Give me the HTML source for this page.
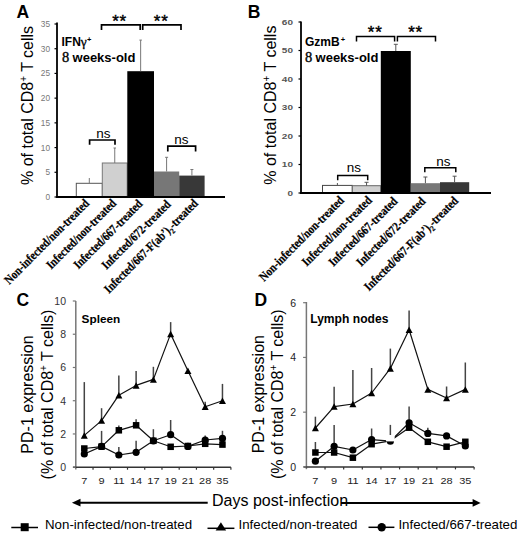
<!DOCTYPE html>
<html><head><meta charset="utf-8"><style>
html,body{margin:0;padding:0;background:#fff;}
svg{display:block;}
</style></head><body>
<svg width="520" height="535" viewBox="0 0 520 535">
<rect width="520" height="535" fill="#fff"/>
<rect x="76.3" y="183.3" width="26.0" height="13.699999999999989" fill="#fff" stroke="#555" stroke-width="1"/>
<line x1="89.3" y1="183.3" x2="89.3" y2="178" stroke="#777" stroke-width="1" />
<rect x="102.3" y="163" width="24.900000000000006" height="34" fill="#d0d0d0" stroke="#777" stroke-width="1"/>
<line x1="114.75" y1="163" x2="114.75" y2="148" stroke="#777" stroke-width="1" />
<line x1="113.5" y1="148" x2="116.0" y2="148" stroke="#777" stroke-width="1" />
<rect x="127.3" y="71.2" width="26.700000000000003" height="125.8" fill="#000" stroke="none" stroke-width="0"/>
<line x1="140.65" y1="71.2" x2="140.65" y2="40.1" stroke="#777" stroke-width="1" />
<line x1="139.4" y1="40.1" x2="141.9" y2="40.1" stroke="#777" stroke-width="1" />
<rect x="154" y="171.5" width="25.19999999999999" height="25.5" fill="#777" stroke="none" stroke-width="0"/>
<line x1="166.6" y1="171.5" x2="166.6" y2="157.3" stroke="#777" stroke-width="1" />
<line x1="165.1" y1="157.3" x2="168.1" y2="157.3" stroke="#777" stroke-width="1" />
<rect x="179.2" y="175.6" width="25.400000000000006" height="21.400000000000006" fill="#383838" stroke="none" stroke-width="0"/>
<line x1="191.89999999999998" y1="175.6" x2="191.89999999999998" y2="169.5" stroke="#777" stroke-width="1" />
<line x1="190.39999999999998" y1="169.5" x2="193.39999999999998" y2="169.5" stroke="#777" stroke-width="1" />
<line x1="57" y1="22.5" x2="57" y2="198" stroke="#000" stroke-width="1.8" />
<line x1="56" y1="197" x2="225" y2="197" stroke="#000" stroke-width="1.8" />
<line x1="54.5" y1="197.0" x2="57" y2="197.0" stroke="#000" stroke-width="1.2" />
<text transform="translate(50,200.00) scale(1.0,1)" font-family="Liberation Sans" font-size="8.3" font-weight="normal" fill="#777" text-anchor="end">0</text>
<line x1="54.5" y1="172.28571428571428" x2="57" y2="172.28571428571428" stroke="#000" stroke-width="1.2" />
<text transform="translate(50,175.29) scale(1.0,1)" font-family="Liberation Sans" font-size="8.3" font-weight="normal" fill="#777" text-anchor="end">5</text>
<line x1="54.5" y1="147.57142857142856" x2="57" y2="147.57142857142856" stroke="#000" stroke-width="1.2" />
<text transform="translate(50,150.57) scale(1.0,1)" font-family="Liberation Sans" font-size="8.3" font-weight="normal" fill="#777" text-anchor="end">10</text>
<line x1="54.5" y1="122.85714285714286" x2="57" y2="122.85714285714286" stroke="#000" stroke-width="1.2" />
<text transform="translate(50,125.86) scale(1.0,1)" font-family="Liberation Sans" font-size="8.3" font-weight="normal" fill="#777" text-anchor="end">15</text>
<line x1="54.5" y1="98.14285714285714" x2="57" y2="98.14285714285714" stroke="#000" stroke-width="1.2" />
<text transform="translate(50,101.14) scale(1.0,1)" font-family="Liberation Sans" font-size="8.3" font-weight="normal" fill="#777" text-anchor="end">20</text>
<line x1="54.5" y1="73.42857142857142" x2="57" y2="73.42857142857142" stroke="#000" stroke-width="1.2" />
<text transform="translate(50,76.43) scale(1.0,1)" font-family="Liberation Sans" font-size="8.3" font-weight="normal" fill="#777" text-anchor="end">25</text>
<line x1="54.5" y1="48.71428571428572" x2="57" y2="48.71428571428572" stroke="#000" stroke-width="1.2" />
<text transform="translate(50,51.71) scale(1.0,1)" font-family="Liberation Sans" font-size="8.3" font-weight="normal" fill="#777" text-anchor="end">30</text>
<line x1="54.5" y1="24.0" x2="57" y2="24.0" stroke="#000" stroke-width="1.2" />
<text transform="translate(50,27.00) scale(1.0,1)" font-family="Liberation Sans" font-size="8.3" font-weight="normal" fill="#777" text-anchor="end">35</text>
<path d="M101.5 30 V24.9 H140.2 V30" fill="none" stroke="#000" stroke-width="1.7"/>
<text x="119.6" y="26.5" font-family="Liberation Sans" font-size="17" font-weight="normal" fill="#000" text-anchor="middle" letter-spacing="0.8" stroke="#000" stroke-width="0.4">**</text>
<path d="M142.7 30 V24.9 H181 V30" fill="none" stroke="#000" stroke-width="1.7"/>
<text x="161.2" y="26.5" font-family="Liberation Sans" font-size="17" font-weight="normal" fill="#000" text-anchor="middle" letter-spacing="0.8" stroke="#000" stroke-width="0.4">**</text>
<path d="M89.6 144.8 V140 H115 V144.8" fill="none" stroke="#000" stroke-width="1.7"/>
<text x="103.3" y="138" font-family="Liberation Sans" font-size="13.5" font-weight="normal" fill="#000" text-anchor="middle" >ns</text>
<path d="M167.8 151.5 V146.2 H195.6 V151.5" fill="none" stroke="#000" stroke-width="1.7"/>
<text x="181.4" y="143.5" font-family="Liberation Sans" font-size="13.5" font-weight="normal" fill="#000" text-anchor="middle" >ns</text>
<rect x="322.5" y="185.4" width="29.80000000000001" height="7.599999999999994" fill="#fff" stroke="#444" stroke-width="1"/>
<line x1="337.4" y1="185.4" x2="337.4" y2="183" stroke="#555" stroke-width="1" />
<rect x="352.3" y="185.7" width="28.5" height="7.300000000000011" fill="#d0d0d0" stroke="#666" stroke-width="1"/>
<line x1="366.55" y1="185.7" x2="366.55" y2="182.3" stroke="#555" stroke-width="1" />
<line x1="364.55" y1="182.3" x2="368.55" y2="182.3" stroke="#555" stroke-width="1" />
<rect x="380.8" y="51" width="30.0" height="142" fill="#000" stroke="none" stroke-width="0"/>
<line x1="395.8" y1="51" x2="395.8" y2="44.3" stroke="#555" stroke-width="1" />
<line x1="393.8" y1="44.3" x2="397.8" y2="44.3" stroke="#555" stroke-width="1" />
<rect x="410.8" y="183.2" width="29.19999999999999" height="9.800000000000011" fill="#777" stroke="none" stroke-width="0"/>
<line x1="425.4" y1="183.2" x2="425.4" y2="177" stroke="#555" stroke-width="1" />
<line x1="423.4" y1="177" x2="427.4" y2="177" stroke="#555" stroke-width="1" />
<rect x="440" y="182.2" width="29.19999999999999" height="10.800000000000011" fill="#383838" stroke="none" stroke-width="0"/>
<line x1="454.6" y1="182.2" x2="454.6" y2="176.2" stroke="#555" stroke-width="1" />
<line x1="452.6" y1="176.2" x2="456.6" y2="176.2" stroke="#555" stroke-width="1" />
<line x1="301" y1="21.5" x2="301" y2="194" stroke="#000" stroke-width="1.8" />
<line x1="300" y1="193" x2="491" y2="193" stroke="#000" stroke-width="1.8" />
<line x1="298.5" y1="193.0" x2="301" y2="193.0" stroke="#000" stroke-width="1.2" />
<text transform="translate(293,195.90) scale(1.25,1)" font-family="Liberation Sans" font-size="8" font-weight="bold" fill="#555" text-anchor="end">0</text>
<line x1="298.5" y1="164.5" x2="301" y2="164.5" stroke="#000" stroke-width="1.2" />
<text transform="translate(293,167.40) scale(1.25,1)" font-family="Liberation Sans" font-size="8" font-weight="bold" fill="#555" text-anchor="end">10</text>
<line x1="298.5" y1="136.0" x2="301" y2="136.0" stroke="#000" stroke-width="1.2" />
<text transform="translate(293,138.90) scale(1.25,1)" font-family="Liberation Sans" font-size="8" font-weight="bold" fill="#555" text-anchor="end">20</text>
<line x1="298.5" y1="107.5" x2="301" y2="107.5" stroke="#000" stroke-width="1.2" />
<text transform="translate(293,110.40) scale(1.25,1)" font-family="Liberation Sans" font-size="8" font-weight="bold" fill="#555" text-anchor="end">30</text>
<line x1="298.5" y1="79.0" x2="301" y2="79.0" stroke="#000" stroke-width="1.2" />
<text transform="translate(293,81.90) scale(1.25,1)" font-family="Liberation Sans" font-size="8" font-weight="bold" fill="#555" text-anchor="end">40</text>
<line x1="298.5" y1="50.5" x2="301" y2="50.5" stroke="#000" stroke-width="1.2" />
<text transform="translate(293,53.40) scale(1.25,1)" font-family="Liberation Sans" font-size="8" font-weight="bold" fill="#555" text-anchor="end">50</text>
<line x1="298.5" y1="22.0" x2="301" y2="22.0" stroke="#000" stroke-width="1.2" />
<text transform="translate(293,24.90) scale(1.25,1)" font-family="Liberation Sans" font-size="8" font-weight="bold" fill="#555" text-anchor="end">60</text>
<path d="M356.5 41.6 V36.5 H394.6 V41.6" fill="none" stroke="#000" stroke-width="1.5"/>
<text x="375.2" y="38.3" font-family="Liberation Sans" font-size="17" font-weight="normal" fill="#000" text-anchor="middle" letter-spacing="0.8" stroke="#000" stroke-width="0.4">**</text>
<path d="M397.4 41.5 V36.5 H435.5 V41.5" fill="none" stroke="#000" stroke-width="1.5"/>
<text x="415.6" y="38.3" font-family="Liberation Sans" font-size="17" font-weight="normal" fill="#000" text-anchor="middle" letter-spacing="0.8" stroke="#000" stroke-width="0.4">**</text>
<path d="M337.7 180.3 V175.4 H367.7 V180.3" fill="none" stroke="#000" stroke-width="1.5"/>
<text x="353.8" y="172" font-family="Liberation Sans" font-size="13.5" font-weight="normal" fill="#000" text-anchor="middle" >ns</text>
<path d="M424.8 172.3 V167.7 H455.8 V172.3" fill="none" stroke="#000" stroke-width="1.5"/>
<text x="443.3" y="166.2" font-family="Liberation Sans" font-size="13.5" font-weight="normal" fill="#000" text-anchor="middle" >ns</text>
<text x="16.4" y="17.7" font-family="Liberation Sans" font-size="17.5" font-weight="bold" fill="#000" text-anchor="start" >A</text>
<text x="247.8" y="17.8" font-family="Liberation Sans" font-size="17.5" font-weight="bold" fill="#000" text-anchor="start" >B</text>
<text x="16.5" y="305.8" font-family="Liberation Sans" font-size="17.5" font-weight="bold" fill="#000" text-anchor="start" >C</text>
<text x="254.5" y="306.4" font-family="Liberation Sans" font-size="17.5" font-weight="bold" fill="#000" text-anchor="start" >D</text>
<text transform="translate(33.2,185) rotate(-90)" font-family="Liberation Sans" font-size="16" fill="#000">% of total CD8<tspan font-size="10" dy="-6">+</tspan><tspan dy="6"> T cells</tspan></text>
<text transform="translate(275.8,184.7) rotate(-90)" font-family="Liberation Sans" font-size="16" fill="#000">% of total CD8<tspan font-size="10" dy="-6">+</tspan><tspan dy="6"> T cells</tspan></text>
<text x="61.5" y="46" font-family="Liberation Sans" font-size="12" font-weight="bold">IFN<tspan font-family="Liberation Serif" font-weight="normal" font-size="13.5" stroke="#000" stroke-width="0.3">γ</tspan><tspan font-size="7.5" dx="0.2" dy="-3.8">+</tspan></text>
<text x="62" y="62" font-family="Liberation Sans" font-size="13" font-weight="bold"><tspan font-family="Liberation Serif" font-weight="normal" font-size="14.5" stroke="#000" stroke-width="0.35">8</tspan><tspan dx="-0.3"> weeks-old</tspan></text>
<text x="305" y="46" font-family="Liberation Sans" font-size="12" font-weight="bold">GzmB<tspan font-size="7.5" dx="1.2" dy="-3.6">+</tspan></text>
<text x="305" y="62.3" font-family="Liberation Sans" font-size="13" font-weight="bold"><tspan font-family="Liberation Serif" font-weight="normal" font-size="14.5" stroke="#000" stroke-width="0.35">8</tspan><tspan dx="-0.3"> weeks-old</tspan></text>
<text transform="translate(90,204.1) rotate(-45) scale(0.85,1)" font-family="Liberation Serif" font-size="12.5" font-weight="bold" stroke="#000" stroke-width="0.25" text-anchor="end">Non-infected/non-treated</text>
<text transform="translate(116.9,204.1) rotate(-45) scale(0.85,1)" font-family="Liberation Serif" font-size="12.5" font-weight="bold" stroke="#000" stroke-width="0.25" text-anchor="end">Infected/non-treated</text>
<text transform="translate(143.3,204.6) rotate(-45) scale(0.85,1)" font-family="Liberation Serif" font-size="12.5" font-weight="bold" stroke="#000" stroke-width="0.25" text-anchor="end">Infected/667-treated</text>
<text transform="translate(171.4,205.1) rotate(-45) scale(0.85,1)" font-family="Liberation Serif" font-size="12.5" font-weight="bold" stroke="#000" stroke-width="0.25" text-anchor="end">Infected/672-treated</text>
<text transform="translate(198.8,204.1) rotate(-45) scale(0.85,1)" font-family="Liberation Serif" font-size="12.5" font-weight="bold" stroke="#000" stroke-width="0.25" text-anchor="end">Infected/667-F(ab&#8217;)<tspan font-size="8" dy="3">2</tspan><tspan dy="-3">-treated</tspan></text>
<text transform="translate(344.75,201.1) rotate(-45) scale(0.85,1)" font-family="Liberation Serif" font-size="12.5" font-weight="bold" stroke="#000" stroke-width="0.25" text-anchor="end">Non-infected/non-treated</text>
<text transform="translate(372.6,201.1) rotate(-45) scale(0.85,1)" font-family="Liberation Serif" font-size="12.5" font-weight="bold" stroke="#000" stroke-width="0.25" text-anchor="end">Infected/non-treated</text>
<text transform="translate(398.3,202.1) rotate(-45) scale(0.85,1)" font-family="Liberation Serif" font-size="12.5" font-weight="bold" stroke="#000" stroke-width="0.25" text-anchor="end">Infected/667-treated</text>
<text transform="translate(426.2,202.1) rotate(-45) scale(0.85,1)" font-family="Liberation Serif" font-size="12.5" font-weight="bold" stroke="#000" stroke-width="0.25" text-anchor="end">Infected/672-treated</text>
<text transform="translate(458.9,201.6) rotate(-45) scale(0.85,1)" font-family="Liberation Serif" font-size="12.5" font-weight="bold" stroke="#000" stroke-width="0.25" text-anchor="end">Infected/667-F(ab&#8217;)<tspan font-size="8" dy="3">2</tspan><tspan dy="-3">-treated</tspan></text>
<line x1="84.3" y1="382.1" x2="84.3" y2="435" stroke="#444" stroke-width="1.5" />
<line x1="101.57" y1="408.2" x2="101.57" y2="420" stroke="#444" stroke-width="1.5" />
<line x1="118.84" y1="375.4" x2="118.84" y2="395" stroke="#444" stroke-width="1.5" />
<line x1="136.11" y1="370.9" x2="136.11" y2="385" stroke="#444" stroke-width="1.5" />
<line x1="153.38" y1="366.8" x2="153.38" y2="379" stroke="#444" stroke-width="1.5" />
<line x1="170.64999999999998" y1="322.1" x2="170.64999999999998" y2="334" stroke="#444" stroke-width="1.5" />
<line x1="205.19" y1="401.8" x2="205.19" y2="406" stroke="#444" stroke-width="1.5" />
<line x1="222.45999999999998" y1="383.9" x2="222.45999999999998" y2="400" stroke="#444" stroke-width="1.5" />
<line x1="101.57" y1="430.9" x2="101.57" y2="446" stroke="#444" stroke-width="1.5" />
<line x1="118.84" y1="425.5" x2="118.84" y2="430" stroke="#444" stroke-width="1.5" />
<line x1="136.11" y1="419.3" x2="136.11" y2="425" stroke="#444" stroke-width="1.5" />
<line x1="118.84" y1="447" x2="118.84" y2="455" stroke="#444" stroke-width="1.5" />
<line x1="136.11" y1="440.8" x2="136.11" y2="452" stroke="#444" stroke-width="1.5" />
<line x1="153.38" y1="429.2" x2="153.38" y2="440" stroke="#444" stroke-width="1.5" />
<line x1="170.64999999999998" y1="420" x2="170.64999999999998" y2="434" stroke="#444" stroke-width="1.5" />
<line x1="205.19" y1="435.4" x2="205.19" y2="440" stroke="#444" stroke-width="1.5" />
<line x1="222.45999999999998" y1="430.8" x2="222.45999999999998" y2="438" stroke="#444" stroke-width="1.5" />
<line x1="75.8" y1="301" x2="75.8" y2="469.5" stroke="#777" stroke-width="1.5" />
<line x1="73.0" y1="467.2" x2="230.9" y2="467.2" stroke="#333" stroke-width="1.5" />
<line x1="72.8" y1="467.2" x2="75.8" y2="467.2" stroke="#777" stroke-width="1.2" />
<text x="66" y="471.0" font-family="Liberation Sans" font-size="10.5" font-weight="normal" fill="#333" text-anchor="end" >0</text>
<line x1="72.8" y1="433.96" x2="75.8" y2="433.96" stroke="#777" stroke-width="1.2" />
<text x="66" y="437.76" font-family="Liberation Sans" font-size="10.5" font-weight="normal" fill="#333" text-anchor="end" >2</text>
<line x1="72.8" y1="400.72" x2="75.8" y2="400.72" stroke="#777" stroke-width="1.2" />
<text x="66" y="404.52000000000004" font-family="Liberation Sans" font-size="10.5" font-weight="normal" fill="#333" text-anchor="end" >4</text>
<line x1="72.8" y1="367.48" x2="75.8" y2="367.48" stroke="#777" stroke-width="1.2" />
<text x="66" y="371.28000000000003" font-family="Liberation Sans" font-size="10.5" font-weight="normal" fill="#333" text-anchor="end" >6</text>
<line x1="72.8" y1="334.24" x2="75.8" y2="334.24" stroke="#777" stroke-width="1.2" />
<text x="66" y="338.04" font-family="Liberation Sans" font-size="10.5" font-weight="normal" fill="#333" text-anchor="end" >8</text>
<line x1="72.8" y1="301.0" x2="75.8" y2="301.0" stroke="#777" stroke-width="1.2" />
<text x="66" y="304.8" font-family="Liberation Sans" font-size="10.5" font-weight="normal" fill="#333" text-anchor="end" >10</text>
<line x1="93.03333333333333" y1="467.2" x2="93.03333333333333" y2="469.7" stroke="#333" stroke-width="1.2" />
<line x1="110.26666666666667" y1="467.2" x2="110.26666666666667" y2="469.7" stroke="#333" stroke-width="1.2" />
<line x1="127.5" y1="467.2" x2="127.5" y2="469.7" stroke="#333" stroke-width="1.2" />
<line x1="144.73333333333335" y1="467.2" x2="144.73333333333335" y2="469.7" stroke="#333" stroke-width="1.2" />
<line x1="161.96666666666667" y1="467.2" x2="161.96666666666667" y2="469.7" stroke="#333" stroke-width="1.2" />
<line x1="179.2" y1="467.2" x2="179.2" y2="469.7" stroke="#333" stroke-width="1.2" />
<line x1="196.43333333333334" y1="467.2" x2="196.43333333333334" y2="469.7" stroke="#333" stroke-width="1.2" />
<line x1="213.66666666666669" y1="467.2" x2="213.66666666666669" y2="469.7" stroke="#333" stroke-width="1.2" />
<line x1="230.90000000000003" y1="467.2" x2="230.90000000000003" y2="469.7" stroke="#333" stroke-width="1.2" />
<text transform="translate(84.30,484.2) scale(1.12,1)" font-family="Liberation Sans" font-size="9.8" fill="#222" text-anchor="middle">7</text>
<text transform="translate(101.57,484.2) scale(1.12,1)" font-family="Liberation Sans" font-size="9.8" fill="#222" text-anchor="middle">9</text>
<text transform="translate(118.84,484.2) scale(1.12,1)" font-family="Liberation Sans" font-size="9.8" fill="#222" text-anchor="middle">11</text>
<text transform="translate(136.11,484.2) scale(1.12,1)" font-family="Liberation Sans" font-size="9.8" fill="#222" text-anchor="middle">14</text>
<text transform="translate(153.38,484.2) scale(1.12,1)" font-family="Liberation Sans" font-size="9.8" fill="#222" text-anchor="middle">17</text>
<text transform="translate(170.65,484.2) scale(1.12,1)" font-family="Liberation Sans" font-size="9.8" fill="#222" text-anchor="middle">19</text>
<text transform="translate(187.92,484.2) scale(1.12,1)" font-family="Liberation Sans" font-size="9.8" fill="#222" text-anchor="middle">21</text>
<text transform="translate(205.19,484.2) scale(1.12,1)" font-family="Liberation Sans" font-size="9.8" fill="#222" text-anchor="middle">28</text>
<text transform="translate(222.46,484.2) scale(1.12,1)" font-family="Liberation Sans" font-size="9.8" fill="#222" text-anchor="middle">35</text>
<polyline points="84.30,435.40 101.57,420.60 118.84,395.20 136.11,385.40 153.38,379.40 170.65,333.90 187.92,370.80 205.19,406.80 222.46,400.70" fill="none" stroke="#111" stroke-width="1.2" stroke-linejoin="round"/>
<polyline points="84.30,448.50 101.57,446.60 118.84,430.30 136.11,425.30 153.38,440.80 170.65,446.80 187.92,446.00 205.19,443.80 222.46,444.60" fill="none" stroke="#111" stroke-width="1.2" stroke-linejoin="round"/>
<polyline points="84.30,454.00 101.57,446.40 118.84,455.00 136.11,452.30 153.38,440.80 170.65,434.70 187.92,446.40 205.19,440.00 222.46,438.40" fill="none" stroke="#111" stroke-width="1.2" stroke-linejoin="round"/>
<rect x="81.05" y="445.25" width="6.5" height="6.5" fill="#000"/>
<rect x="98.32" y="443.35" width="6.5" height="6.5" fill="#000"/>
<rect x="115.59" y="427.05" width="6.5" height="6.5" fill="#000"/>
<rect x="132.86" y="422.05" width="6.5" height="6.5" fill="#000"/>
<rect x="150.13" y="437.55" width="6.5" height="6.5" fill="#000"/>
<rect x="167.40" y="443.55" width="6.5" height="6.5" fill="#000"/>
<rect x="184.67" y="442.75" width="6.5" height="6.5" fill="#000"/>
<rect x="201.94" y="440.55" width="6.5" height="6.5" fill="#000"/>
<rect x="219.21" y="441.35" width="6.5" height="6.5" fill="#000"/>
<circle cx="84.30" cy="454.00" r="3.6" fill="#000" stroke="none"/>
<circle cx="101.57" cy="446.40" r="3.6" fill="#000" stroke="none"/>
<circle cx="118.84" cy="455.00" r="3.6" fill="#000" stroke="none"/>
<circle cx="136.11" cy="452.30" r="3.6" fill="#000" stroke="none"/>
<circle cx="153.38" cy="440.80" r="3.6" fill="#000" stroke="none"/>
<circle cx="170.65" cy="434.70" r="3.6" fill="#000" stroke="none"/>
<circle cx="187.92" cy="446.40" r="3.6" fill="#000" stroke="none"/>
<circle cx="205.19" cy="440.00" r="3.6" fill="#000" stroke="none"/>
<circle cx="222.46" cy="438.40" r="3.6" fill="#000" stroke="none"/>
<path d="M80.80 438.65 L84.30 432.15 L87.80 438.65 Z" fill="#000"/>
<path d="M98.07 423.85 L101.57 417.35 L105.07 423.85 Z" fill="#000"/>
<path d="M115.34 398.45 L118.84 391.95 L122.34 398.45 Z" fill="#000"/>
<path d="M132.61 388.65 L136.11 382.15 L139.61 388.65 Z" fill="#000"/>
<path d="M149.88 382.65 L153.38 376.15 L156.88 382.65 Z" fill="#000"/>
<path d="M167.15 337.15 L170.65 330.65 L174.15 337.15 Z" fill="#000"/>
<path d="M184.42 374.05 L187.92 367.55 L191.42 374.05 Z" fill="#000"/>
<path d="M201.69 410.05 L205.19 403.55 L208.69 410.05 Z" fill="#000"/>
<path d="M218.96 403.95 L222.46 397.45 L225.96 403.95 Z" fill="#000"/>
<line x1="315.4" y1="416.7" x2="315.4" y2="428" stroke="#444" stroke-width="1.5" />
<line x1="334.14" y1="386.8" x2="334.14" y2="406" stroke="#444" stroke-width="1.5" />
<line x1="352.88" y1="369.9" x2="352.88" y2="404" stroke="#444" stroke-width="1.5" />
<line x1="371.62" y1="368" x2="371.62" y2="393" stroke="#444" stroke-width="1.5" />
<line x1="390.35999999999996" y1="348.6" x2="390.35999999999996" y2="368" stroke="#444" stroke-width="1.5" />
<line x1="409.09999999999997" y1="310.6" x2="409.09999999999997" y2="330" stroke="#444" stroke-width="1.5" />
<line x1="446.5799999999999" y1="386.5" x2="446.5799999999999" y2="398" stroke="#444" stroke-width="1.5" />
<line x1="465.31999999999994" y1="362.5" x2="465.31999999999994" y2="389" stroke="#444" stroke-width="1.5" />
<line x1="315.4" y1="442" x2="315.4" y2="452" stroke="#444" stroke-width="1.5" />
<line x1="334.14" y1="425.1" x2="334.14" y2="446" stroke="#444" stroke-width="1.5" />
<line x1="371.62" y1="428.5" x2="371.62" y2="440" stroke="#444" stroke-width="1.5" />
<line x1="390.35999999999996" y1="424.9" x2="390.35999999999996" y2="440" stroke="#444" stroke-width="1.5" />
<line x1="409.09999999999997" y1="406.5" x2="409.09999999999997" y2="423" stroke="#444" stroke-width="1.5" />
<line x1="427.84" y1="427.7" x2="427.84" y2="433" stroke="#444" stroke-width="1.5" />
<line x1="306.4" y1="302" x2="306.4" y2="469.2" stroke="#777" stroke-width="1.5" />
<line x1="303.59999999999997" y1="466.9" x2="474.1" y2="466.9" stroke="#333" stroke-width="1.5" />
<line x1="303.09999999999997" y1="466.9" x2="306.4" y2="466.9" stroke="#777" stroke-width="1.2" />
<text x="296" y="470.7" font-family="Liberation Sans" font-size="10.5" font-weight="normal" fill="#222" text-anchor="end" >0</text>
<line x1="303.09999999999997" y1="412.16666666666663" x2="306.4" y2="412.16666666666663" stroke="#777" stroke-width="1.2" />
<text x="296" y="415.96666666666664" font-family="Liberation Sans" font-size="10.5" font-weight="normal" fill="#222" text-anchor="end" >2</text>
<line x1="303.09999999999997" y1="357.43333333333334" x2="306.4" y2="357.43333333333334" stroke="#777" stroke-width="1.2" />
<text x="296" y="361.23333333333335" font-family="Liberation Sans" font-size="10.5" font-weight="normal" fill="#222" text-anchor="end" >4</text>
<line x1="303.09999999999997" y1="302.7" x2="306.4" y2="302.7" stroke="#777" stroke-width="1.2" />
<text x="296" y="306.5" font-family="Liberation Sans" font-size="10.5" font-weight="normal" fill="#222" text-anchor="end" >6</text>
<line x1="325.0333333333333" y1="466.9" x2="325.0333333333333" y2="469.4" stroke="#333" stroke-width="1.2" />
<line x1="343.66666666666663" y1="466.9" x2="343.66666666666663" y2="469.4" stroke="#333" stroke-width="1.2" />
<line x1="362.3" y1="466.9" x2="362.3" y2="469.4" stroke="#333" stroke-width="1.2" />
<line x1="380.93333333333334" y1="466.9" x2="380.93333333333334" y2="469.4" stroke="#333" stroke-width="1.2" />
<line x1="399.56666666666666" y1="466.9" x2="399.56666666666666" y2="469.4" stroke="#333" stroke-width="1.2" />
<line x1="418.20000000000005" y1="466.9" x2="418.20000000000005" y2="469.4" stroke="#333" stroke-width="1.2" />
<line x1="436.83333333333337" y1="466.9" x2="436.83333333333337" y2="469.4" stroke="#333" stroke-width="1.2" />
<line x1="455.4666666666667" y1="466.9" x2="455.4666666666667" y2="469.4" stroke="#333" stroke-width="1.2" />
<line x1="474.1" y1="466.9" x2="474.1" y2="469.4" stroke="#333" stroke-width="1.2" />
<text transform="translate(315.40,483.7) scale(1.12,1)" font-family="Liberation Sans" font-size="9.8" fill="#222" text-anchor="middle">7</text>
<text transform="translate(334.14,483.7) scale(1.12,1)" font-family="Liberation Sans" font-size="9.8" fill="#222" text-anchor="middle">9</text>
<text transform="translate(352.88,483.7) scale(1.12,1)" font-family="Liberation Sans" font-size="9.8" fill="#222" text-anchor="middle">11</text>
<text transform="translate(371.62,483.7) scale(1.12,1)" font-family="Liberation Sans" font-size="9.8" fill="#222" text-anchor="middle">14</text>
<text transform="translate(390.36,483.7) scale(1.12,1)" font-family="Liberation Sans" font-size="9.8" fill="#222" text-anchor="middle">17</text>
<text transform="translate(409.10,483.7) scale(1.12,1)" font-family="Liberation Sans" font-size="9.8" fill="#222" text-anchor="middle">19</text>
<text transform="translate(427.84,483.7) scale(1.12,1)" font-family="Liberation Sans" font-size="9.8" fill="#222" text-anchor="middle">21</text>
<text transform="translate(446.58,483.7) scale(1.12,1)" font-family="Liberation Sans" font-size="9.8" fill="#222" text-anchor="middle">28</text>
<text transform="translate(465.32,483.7) scale(1.12,1)" font-family="Liberation Sans" font-size="9.8" fill="#222" text-anchor="middle">35</text>
<polyline points="315.40,428.00 334.14,406.60 352.88,404.00 371.62,393.00 390.36,368.40 409.10,329.80 427.84,389.40 446.58,398.00 465.32,389.40" fill="none" stroke="#111" stroke-width="1.2" stroke-linejoin="round"/>
<polyline points="315.40,452.50 334.14,452.50 352.88,457.70 371.62,444.20 390.36,440.80 409.10,427.70 427.84,441.80 446.58,446.70 465.32,441.80" fill="none" stroke="#111" stroke-width="1.2" stroke-linejoin="round"/>
<polyline points="315.40,461.20 334.14,446.30 352.88,450.00 371.62,439.60 390.36,441.20 409.10,422.80 427.84,433.40 446.58,435.90 465.32,446.00" fill="none" stroke="#111" stroke-width="1.2" stroke-linejoin="round"/>
<rect x="312.15" y="449.25" width="6.5" height="6.5" fill="#000"/>
<rect x="330.89" y="449.25" width="6.5" height="6.5" fill="#000"/>
<rect x="349.63" y="454.45" width="6.5" height="6.5" fill="#000"/>
<rect x="368.37" y="440.95" width="6.5" height="6.5" fill="#000"/>
<rect x="405.85" y="424.45" width="6.5" height="6.5" fill="#000"/>
<rect x="424.59" y="438.55" width="6.5" height="6.5" fill="#000"/>
<rect x="443.33" y="443.45" width="6.5" height="6.5" fill="#000"/>
<rect x="462.07" y="438.55" width="6.5" height="6.5" fill="#000"/>
<circle cx="315.40" cy="461.20" r="3.6" fill="#000" stroke="none"/>
<circle cx="334.14" cy="446.30" r="3.6" fill="#000" stroke="none"/>
<circle cx="352.88" cy="450.00" r="3.6" fill="#000" stroke="none"/>
<circle cx="371.62" cy="439.60" r="3.6" fill="#000" stroke="none"/>
<circle cx="390.36" cy="441.20" r="3.6" fill="#000" stroke="none"/>
<rect x="386.06" y="435.00" width="8.6" height="6.4" fill="#fff"/>
<circle cx="409.10" cy="422.80" r="3.6" fill="#000" stroke="none"/>
<circle cx="427.84" cy="433.40" r="3.6" fill="#000" stroke="none"/>
<circle cx="446.58" cy="435.90" r="3.6" fill="#000" stroke="none"/>
<circle cx="465.32" cy="446.00" r="3.6" fill="#000" stroke="none"/>
<path d="M311.90 431.25 L315.40 424.75 L318.90 431.25 Z" fill="#000"/>
<path d="M330.64 409.85 L334.14 403.35 L337.64 409.85 Z" fill="#000"/>
<path d="M349.38 407.25 L352.88 400.75 L356.38 407.25 Z" fill="#000"/>
<path d="M368.12 396.25 L371.62 389.75 L375.12 396.25 Z" fill="#000"/>
<path d="M386.86 371.65 L390.36 365.15 L393.86 371.65 Z" fill="#000"/>
<path d="M405.60 333.05 L409.10 326.55 L412.60 333.05 Z" fill="#000"/>
<path d="M424.34 392.65 L427.84 386.15 L431.34 392.65 Z" fill="#000"/>
<path d="M443.08 401.25 L446.58 394.75 L450.08 401.25 Z" fill="#000"/>
<path d="M461.82 392.65 L465.32 386.15 L468.82 392.65 Z" fill="#000"/>
<text transform="translate(33.0,394.5) rotate(-90)" font-family="Liberation Sans" font-size="16" text-anchor="middle">PD-1 expression</text>
<text transform="translate(52.8,394.5) rotate(-90)" font-family="Liberation Sans" font-size="16" text-anchor="middle">(% of total CD8<tspan font-size="10" dy="-6">+</tspan><tspan dy="6"> T cells)</tspan></text>
<text transform="translate(264.2,394.2) rotate(-90)" font-family="Liberation Sans" font-size="16" text-anchor="middle">PD-1 expression</text>
<text transform="translate(283.4,394.2) rotate(-90)" font-family="Liberation Sans" font-size="16" text-anchor="middle">(% of total CD8<tspan font-size="10" dy="-6">+</tspan><tspan dy="6"> T cells)</tspan></text>
<text x="81.6" y="323.2" font-family="Liberation Sans" font-size="11.8" font-weight="bold" fill="#000" text-anchor="start" >Spleen</text>
<text x="310.2" y="323.0" font-family="Liberation Sans" font-size="12.1" font-weight="bold" fill="#000" text-anchor="start" >Lymph nodes</text>
<line x1="78" y1="502.7" x2="207.7" y2="502.7" stroke="#000" stroke-width="2"/>
<path d="M71.9 502.7 L80.5 498.8 L80.5 506.6 Z" fill="#000"/>
<line x1="341" y1="502.9" x2="474" y2="502.9" stroke="#000" stroke-width="2"/>
<path d="M480.6 502.9 L472.6 499 L472.6 506.8 Z" fill="#000"/>
<text x="212" y="505.8" font-family="Liberation Sans" font-size="16" font-weight="normal" fill="#000" text-anchor="start" >Days post-infection</text>
<line x1="11.3" y1="527.5" x2="38" y2="527.5" stroke="#000" stroke-width="1.5"/>
<rect x="20.70" y="523.20" width="8" height="8" fill="#000"/>
<text x="45" y="529.4" font-family="Liberation Sans" font-size="13.3" font-weight="normal" fill="#000" text-anchor="start" >Non-infected/non-treated</text>
<line x1="207.5" y1="528.3" x2="234.4" y2="528.3" stroke="#000" stroke-width="1.5"/>
<path d="M215.65 530.40 L220.90 522.20 L226.15 530.40 Z" fill="#000"/>
<text x="238.5" y="529.3" font-family="Liberation Sans" font-size="13.3" font-weight="normal" fill="#000" text-anchor="start" >Infected/non-treated</text>
<line x1="368.5" y1="527.3" x2="394.4" y2="527.3" stroke="#000" stroke-width="1.5"/>
<circle cx="381.70" cy="527.20" r="4.2" fill="#000" stroke="none"/>
<text x="398.4" y="529.4" font-family="Liberation Sans" font-size="13.3" font-weight="normal" fill="#000" text-anchor="start" >Infected/667-treated</text>
</svg>
</body></html>
